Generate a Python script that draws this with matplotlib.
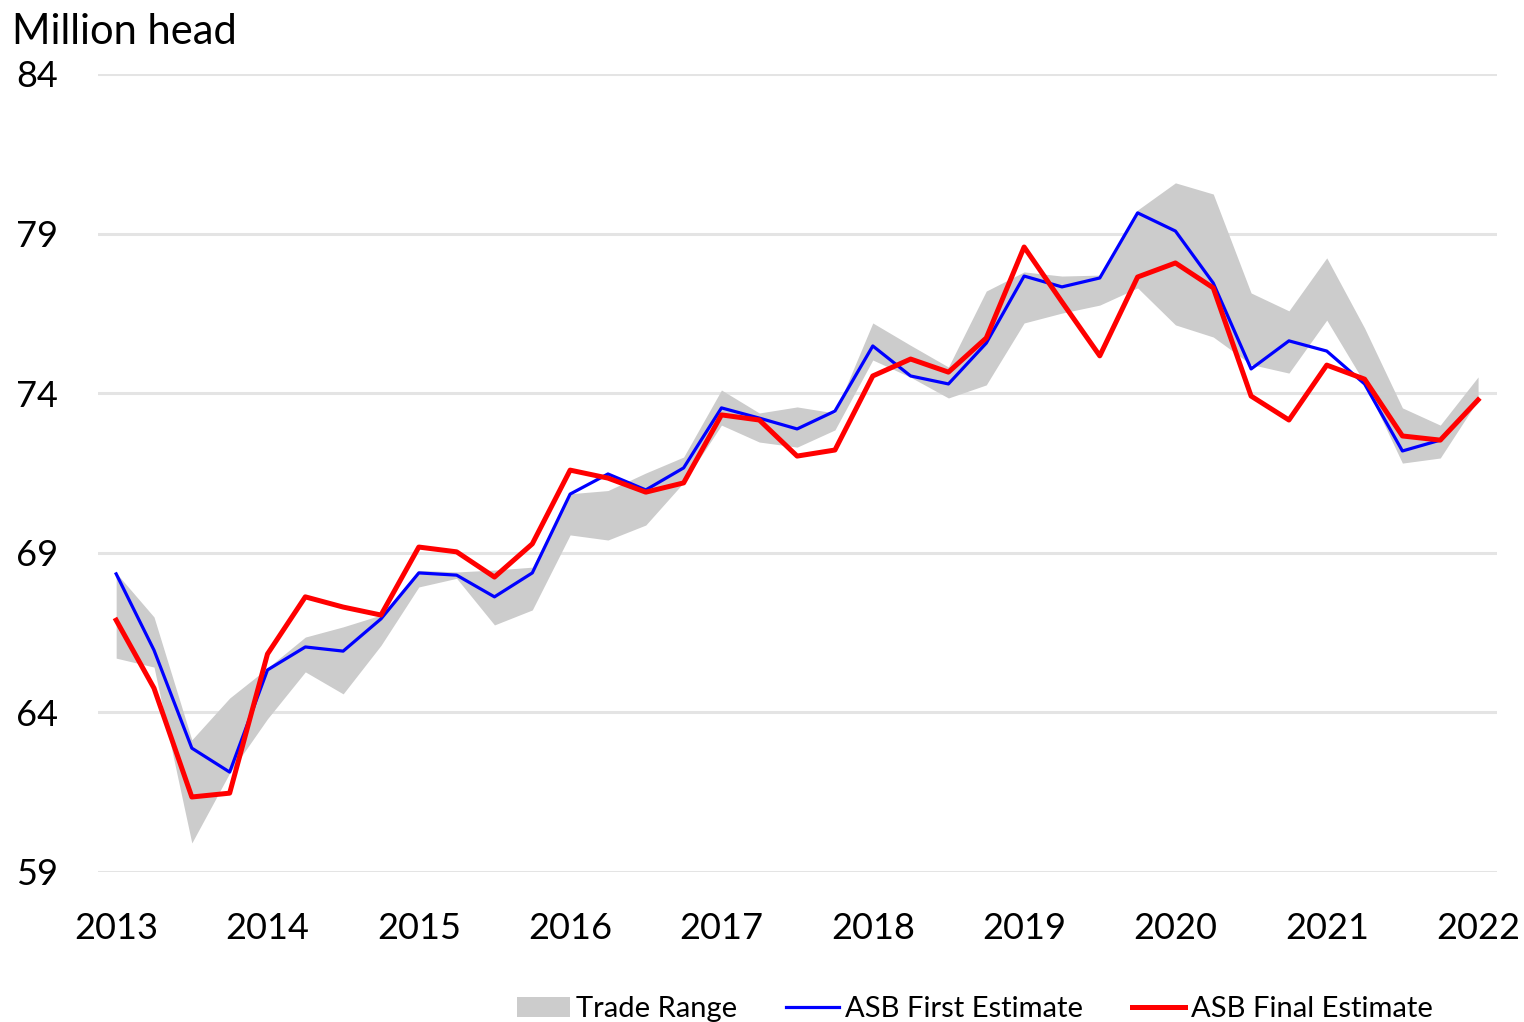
import matplotlib.pyplot as plt
import numpy as np

plt.rcParams['font.family'] = ['Lato', 'DejaVu Sans']

# quarterly, 2013 Q1 .. 2022 Q1
years = [2013, 2014, 2015, 2016, 2017, 2018, 2019, 2020, 2021, 2022]

first_est = [68.34, 65.95, 62.88, 62.13, 65.33, 66.05, 65.92, 66.93, 68.37, 68.30,
             67.62, 68.37, 70.84, 71.47, 70.97, 71.66, 73.54, 73.22, 72.88, 73.44,
             75.48, 74.54, 74.29, 75.57, 77.67, 77.33, 77.61, 79.65, 79.08, 77.45,
             74.76, 75.64, 75.32, 74.29, 72.19, 72.53, np.nan]

final_est = [66.89, 64.76, 61.35, 61.47, 65.83, 67.62, 67.30, 67.05, 69.18, 69.03,
             68.24, 69.28, 71.59, 71.34, 70.90, 71.19, 73.32, 73.16, 72.03, 72.22,
             74.54, 75.07, 74.66, 75.73, 78.58, 76.86, 75.17, 77.64, 78.08, 77.30,
             73.91, 73.16, 74.88, 74.44, 72.66, 72.53, 73.79]

range_hi = [68.37, 66.99, 63.14, 64.45, 65.39, 66.36, 66.68, 67.05, 68.45, 68.40,
            68.46, 68.55, 70.85, 70.95, 71.50, 72.00, 74.10, 73.38, 73.57, 73.38,
            76.20, 75.50, 74.82, 77.20, 77.80, 77.67, 77.70, 79.74, 80.59, 80.24,
            77.14, 76.58, 78.24, 76.04, 73.54, 73.00, 74.51]

range_lo = [65.70, 65.42, 59.91, 62.10, 63.80, 65.27, 64.58, 66.10, 67.93, 68.20,
            66.74, 67.21, 69.56, 69.40, 69.87, 71.20, 73.00, 72.47, 72.31, 72.85,
            75.04, 74.50, 73.85, 74.26, 76.20, 76.51, 76.76, 77.30, 76.14, 75.76,
            74.90, 74.63, 76.29, 74.32, 71.81, 71.97, 73.79]

yticks = [59, 64, 69, 74, 79, 84]

q = np.arange(len(final_est))

fig = plt.figure(figsize=(15.24, 10.22), dpi=100)
ax = fig.add_axes([98/1524, 1-872/1022, (1497-98)/1524, (872-74)/1022])

ax.fill_between(q, range_lo, range_hi, color='#cccccc', linewidth=0, label='Trade Range')
ax.plot(q, first_est, color='#0000ff', lw=2.3, label='ASB First Estimate')
ax.plot(q, final_est, color='#ff0000', lw=3.6, label='ASB Final Estimate')

# Housework
ax.set_xlim(-0.48, 36.5)
ax.set_ylim(59, 84)
ax.set_yticks(yticks)
ax.set_xticks(np.arange(0, 37, 4))
ax.set_xticklabels([str(y) for y in years])
for yv in yticks:
    ax.axhline(yv, color='#e4e4e4', lw=2.2, zorder=0)
for s in ax.spines.values():
    s.set_visible(False)
ax.tick_params(axis='both', length=0, labelsize=26, colors='black')
ax.tick_params(axis='y', pad=29)
ax.tick_params(axis='x', pad=29)

fig.text(12/1524, 1-44/1022, 'Million head', fontsize=30, ha='left', va='baseline')

fig.legend(loc='lower left', bbox_to_anchor=(491/1524, -0.026), ncol=3, frameon=False,
           fontsize=21, handlelength=1.8, handletextpad=0.2, columnspacing=1.7)

fig.savefig('out.png', dpi=100)
